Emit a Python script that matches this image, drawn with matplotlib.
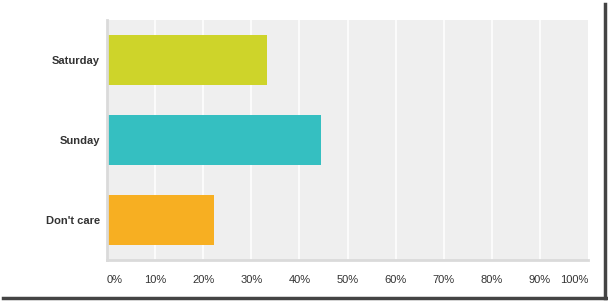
import matplotlib
matplotlib.use('Agg')
import matplotlib.pyplot as plt
from matplotlib.lines import Line2D

# answers and their shares (%)
categories = ['Saturday', 'Sunday', "Don't care"]
values = [33.33, 44.44, 22.22]
colors = ['#CED42A', '#35BFC1', '#F7AF22']
ticks = [0, 10, 20, 30, 40, 50, 60, 70, 80, 90, 100]
tick_labels = [str(t) + '%' for t in ticks]

plt.rcParams['font.family'] = ['Liberation Sans', 'DejaVu Sans']

fig = plt.figure(figsize=(6.08, 3.01), dpi=100)
W, H = 608, 301
ax = fig.add_axes([107 / W, 1 - 260 / H, 481 / W, 240 / H])
ax.set_facecolor('#EFEFEF')

pos = list(range(len(categories)))
ax.barh(pos, values, height=0.625, color=colors, zorder=3)
ax.set_ylim(len(categories) - 0.5, -0.5)
ax.set_xlim(0, 100)

ax.set_yticks(pos)
ax.set_yticklabels(categories, fontsize=8, fontweight='bold', color='#333333')
ax.set_xticks(ticks)
ax.set_xticklabels(tick_labels, fontsize=8, color='#333333')
labels = ax.get_xticklabels()
labels[0].set_ha('left')
labels[0].set_x(0.6)
labels[-1].set_ha('right')
ax.tick_params(axis='both', length=0)
ax.tick_params(axis='y', pad=5)
ax.tick_params(axis='x', pad=11)

ax.grid(axis='x', color='white', linewidth=1.1, zorder=1)
ax.grid(axis='y', visible=False)
ax.xaxis.get_gridlines()[-1].set_visible(False)
for s in ['top', 'right']:
    ax.spines[s].set_visible(False)
for s in ['left', 'bottom']:
    ax.spines[s].set_color('#DADADA')
    ax.spines[s].set_linewidth(2)
    ax.spines[s].set_zorder(4)

# frame shadow at the right and bottom
fig.add_artist(Line2D([605 / W, 605 / W], [3 / H, 1 - 4 / H], color='#444444', linewidth=2.5,
                      transform=fig.transFigure))
fig.add_artist(Line2D([3 / W, 606 / W], [3 / H, 3 / H], color='#444444', linewidth=2.5,
                      transform=fig.transFigure))

fig.savefig('out.png', dpi=100)
